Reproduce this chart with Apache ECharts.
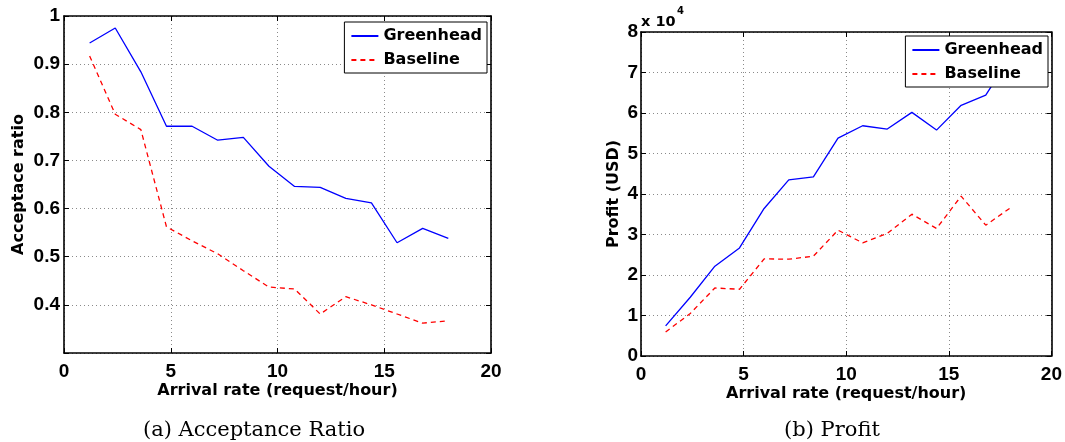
<!DOCTYPE html>
<html>
<head>
<meta charset="utf-8">
<script src="https://cdn.jsdelivr.net/npm/echarts@6/dist/echarts.min.js"></script>
<style>
  html, body { margin: 0; padding: 0; background: #fff; }
  #chart { width: 1065px; height: 442px; }
</style>
</head>
<body>
<div id="chart"></div>
<script>
// Arrival rate (request/hour) of each experiment
const arrivalRate = [1.2, 2.4, 3.6, 4.8, 6.0, 7.2, 8.4, 9.6, 10.8, 12.0, 13.2, 14.4, 15.6, 16.8, 18.0];

// (a) Acceptance ratio
const acceptGreenhead = [0.944, 0.975, 0.884, 0.771, 0.771, 0.742, 0.748, 0.688, 0.646, 0.644, 0.621, 0.612, 0.529, 0.559, 0.538];
const acceptBaseline  = [0.917, 0.796, 0.764, 0.562, 0.533, 0.506, 0.471, 0.437, 0.433, 0.381, 0.417, 0.400, 0.381, 0.362, 0.367];

// (b) Profit in USD
const profitGreenhead = [7420, 14500, 22170, 26690, 36430, 43500, 44240, 53800, 56850, 56030, 60160, 55780, 61900, 64400, 74000];
const profitBaseline  = [5930, 10500, 16800, 16480, 23980, 23900, 24640, 31070, 27930, 30250, 35020, 31480, 39470, 32300, 36580];

const seriesNames = ['Greenhead', 'Baseline'];
const xTitle = 'Arrival rate (request/hour)';
const yTitleAccept = 'Acceptace ratio';
const yTitleProfit = 'Profit (USD)';
const captions = ['(a) Acceptance Ratio', '(b) Profit'];
const profitScale = 10000;

const SANS = '"Liberation Sans", Arial, Helvetica, sans-serif';
const WIDE = '"DejaVu Sans", Verdana, sans-serif';
const SERIF = '"DejaVu Serif", "Liberation Serif", serif';

const pairs = (xs, ys) => xs.map((x, i) => [x, ys[i]]);

const tickFont = { color: '#000', fontFamily: SANS, fontWeight: 'bold', fontSize: 19 };
const titleFont = { color: '#000', fontFamily: WIDE, fontWeight: 'bold', fontSize: 16 };
const boxLine = { show: true, onZero: false, lineStyle: { color: '#000', width: 1.6 } };
const innerTick = { show: true, inside: true, length: 5, lineStyle: { color: '#000', width: 1 } };
const dotted = { show: true, lineStyle: { color: '#8a8a8a', width: 1, type: [1, 3] } };

function mainX(gridIndex) {
  return {
    gridIndex, type: 'value', position: 'bottom', min: 0, max: 20, interval: 5,
    axisLine: boxLine, axisTick: innerTick, splitLine: dotted,
    axisLabel: Object.assign({ margin: 9 }, tickFont),
    name: xTitle, nameLocation: 'middle', nameGap: 30, nameMoveOverlap: false, nameTextStyle: titleFont
  };
}
function topX(gridIndex) {
  return {
    gridIndex, type: 'value', position: 'top', min: 0, max: 20, interval: 5,
    axisLine: boxLine, axisTick: innerTick, splitLine: { show: false }, axisLabel: { show: false }
  };
}
function sideY(gridIndex, min, max, interval) {
  return {
    gridIndex, type: 'value', position: 'right', min, max, interval,
    axisLine: boxLine, axisTick: innerTick, splitLine: { show: false }, axisLabel: { show: false }
  };
}
function line(name, data, xi, yi, color, dashed) {
  return {
    name, type: 'line', data, xAxisIndex: xi, yAxisIndex: yi,
    symbol: 'none', showSymbol: false, smooth: false, z: 3,
    itemStyle: { color },
    lineStyle: { color, width: 1.3, type: dashed ? [5, 4] : 'solid' }
  };
}
function legendBox(right, top) {
  return {
    orient: 'vertical', right, top, data: seriesNames,
    itemWidth: 27, itemHeight: 12, itemGap: 8,
    padding: [6, 5, 5, 6],
    backgroundColor: '#fff', borderColor: '#000', borderWidth: 1, borderRadius: 0,
    itemStyle: { color: 'rgba(0,0,0,0)', borderWidth: 0, opacity: 0 },
    textStyle: { color: '#000', fontFamily: WIDE, fontWeight: 'bold', fontSize: 16 },
    selectedMode: false, z: 10
  };
}

const chart = echarts.init(document.getElementById('chart'), null, { renderer: 'canvas' });

chart.setOption({
  animation: false,
  backgroundColor: '#fff',
  grid: [
    { left: 64, right: 574, top: 16, bottom: 89 },
    { left: 641, right: 13, top: 32, bottom: 86 }
  ],
  xAxis: [mainX(0), topX(0), mainX(1), topX(1)],
  yAxis: [
    {
      gridIndex: 0, type: 'value', position: 'left', min: 0.3, max: 1, interval: 0.1,
      axisLine: boxLine, axisTick: innerTick, splitLine: dotted,
      axisLabel: Object.assign({
        margin: 4,
        formatter: v => {
          const r = Math.round(v * 10) / 10;
          if (r <= 0.3) return '';
          return r === 1 ? '1' : r.toFixed(1);
        }
      }, tickFont),
      name: yTitleAccept, nameLocation: 'middle', nameGap: 37, nameRotate: 90,
      nameMoveOverlap: false, nameTextStyle: titleFont
    },
    sideY(0, 0.3, 1, 0.1),
    {
      gridIndex: 1, type: 'value', position: 'left', min: 0, max: 8 * profitScale, interval: profitScale,
      axisLine: boxLine, axisTick: innerTick, splitLine: dotted,
      axisLabel: Object.assign({ margin: 3, formatter: v => String(Math.round(v / profitScale)) }, tickFont),
      name: yTitleProfit, nameLocation: 'middle', nameGap: 19, nameRotate: 90,
      nameMoveOverlap: false, nameTextStyle: titleFont
    },
    sideY(1, 0, 8 * profitScale, profitScale)
  ],
  legend: [legendBox(578, 22), legendBox(17, 36)],
  series: [
    line(seriesNames[0], pairs(arrivalRate, acceptGreenhead), 0, 0, '#0000ff', false),
    line(seriesNames[1], pairs(arrivalRate, acceptBaseline), 0, 0, '#ff0000', true),
    line(seriesNames[0], pairs(arrivalRate, profitGreenhead), 2, 2, '#0000ff', false),
    line(seriesNames[1], pairs(arrivalRate, profitBaseline), 2, 2, '#ff0000', true)
  ],
  graphic: [
    { type: 'text', x: 641, y: 15, style: { text: 'x 10', fill: '#000', font: 'bold 14.5px ' + WIDE } },
    { type: 'text', x: 677, y: 6, style: { text: '4', fill: '#000', font: 'bold 10px ' + WIDE } },
    { type: 'text', x: 254, y: 420, style: { text: captions[0], fill: '#000', font: '21px ' + SERIF, align: 'center' } },
    { type: 'text', x: 832, y: 420, style: { text: captions[1], fill: '#000', font: '21px ' + SERIF, align: 'center' } }
  ]
});
</script>
</body>
</html>
